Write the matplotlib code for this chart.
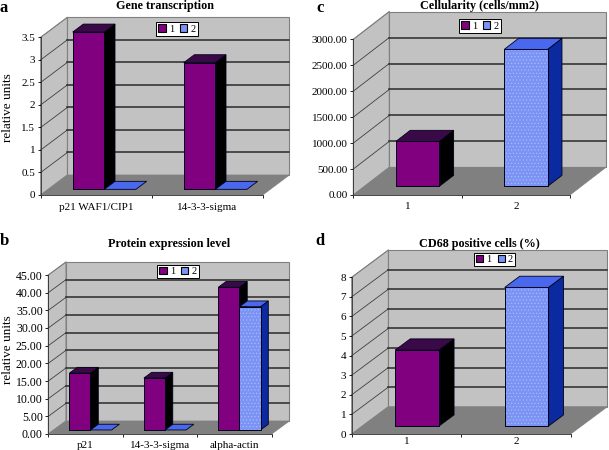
import numpy as np
import matplotlib
matplotlib.use("Agg")
import matplotlib.pyplot as plt
from matplotlib.patches import Patch

plt.rcParams['font.family'] = ['Liberation Serif', 'DejaVu Serif']
plt.rcParams['hatch.linewidth'] = 0.5

W, H = 609, 450

# values, nan = no bar
a_labels = ['p21 WAF1/CIP1', '14-3-3-sigma']
a_s1 = [3.49, 2.81]
a_s2 = [0.0, 0.0]
a_ticks = [0, 0.5, 1, 1.5, 2, 2.5, 3, 3.5]
a_ticklabels = ['0', '0.5', '1', '1.5', '2', '2.5', '3', '3.5']

b_labels = ['p21', '14-3-3-sigma', 'alpha-actin']
b_s1 = [16.1, 14.7, 40.4]
b_s2 = [0.0, 0.0, 34.9]
b_ticks = [0, 5, 10, 15, 20, 25, 30, 35, 40, 45]
b_ticklabels = ['0.00', '5.00', '10.00', '15.00', '20.00', '25.00', '30.00', '35.00', '40.00', '45.00']

c_labels = ['1', '2']
c_s1 = [867, np.nan]
c_s2 = [np.nan, 2640]
c_ticks = [0, 500, 1000, 1500, 2000, 2500, 3000]
c_ticklabels = ['0.00', '500.00', '1000.00', '1500.00', '2000.00', '2500.00', '3000.00']

d_labels = ['1', '2']
d_s1 = [3.88, np.nan]
d_s2 = [np.nan, 7.08]
d_ticks = [0, 1, 2, 3, 4, 5, 6, 7, 8]
d_ticklabels = ['0', '1', '2', '3', '4', '5', '6', '7', '8']

PURPLE = ('#800080', '#3a0a48', '#000000')
BLUE = ('#7a93f5', '#4a68ee', '#0c2aa0')


def draw_bar(ax, x, width, val, d0, d1, dx, dy, cols, dotted=False):
    front, top, side = cols
    x0 = x + d0 * dx
    b0 = d0 * dy
    xd = (d1 - d0) * dx
    yd = (d1 - d0) * dy
    ec = '#000018'
    x1 = x0 + width
    y1 = b0 + val
    if val > 0:
        ax.fill([x1, x1 + xd, x1 + xd, x1], [b0, b0 + yd, y1 + yd, y1], color=side,
                ec=ec, lw=0.6, clip_on=False, zorder=4)
        if dotted:
            ax.bar(x0, val, width, bottom=b0, align='edge', color=front, edgecolor='#a9baf8',
                   hatch='.....', lw=0, clip_on=False, zorder=5)
            ax.bar(x0, val, width, bottom=b0, align='edge', fill=False, edgecolor=ec,
                   lw=0.7, clip_on=False, zorder=5)
        else:
            ax.bar(x0, val, width, bottom=b0, align='edge', color=front, edgecolor=ec,
                   lw=0.7, clip_on=False, zorder=5)
    ax.fill([x0, x1, x1 + xd, x0 + xd], [y1, y1, y1 + yd, y1 + yd], color=top,
            ec=ec, lw=0.6, clip_on=False, zorder=6)


def panel(rect, depth, labels, s1, s2, ticks, ticklabels, title, title_xy, letter, letter_xy,
          bar_w, bar_x, bar_d, overlap, pad, legend_box, ylabel_y=None, ysize=8):
    left, right, top, bottom = rect
    ax = fig.add_axes([left / W, 1 - bottom / H, (right - left) / W, (bottom - top) / H])
    n = len(labels)
    ymax = ticks[-1]
    ax.set_xlim(0, n)
    ax.set_ylim(0, ymax)
    ax.patch.set_visible(False)
    for s in ['top', 'right']:
        ax.spines[s].set_visible(False)
    for s in ['left', 'bottom']:
        ax.spines[s].set_linewidth(0.6)
        ax.spines[s].set_color('#303030')
        ax.spines[s].set_zorder(7)

    # depth of the box, in data units
    dx = depth[0] / (right - left) * n
    dy = depth[1] / (bottom - top) * ymax

    # walls and floor
    ax.fill([0, dx, dx, 0], [0, dy, ymax + dy, ymax], color='#c2c2c2', ec='#808080', lw=0.7, clip_on=False, zorder=1)
    ax.fill([dx, n + dx, n + dx, dx], [dy, dy, ymax + dy, ymax + dy], color='#c2c2c2', ec='#808080', lw=0.8, clip_on=False, zorder=1)
    ax.fill([0, n, n + dx, dx], [0, 0, dy, dy], color='#808080', ec='#808080', lw=0.5, clip_on=False, zorder=2)

    for t in ticks[1:-1]:
        ax.plot([0, dx], [t, t + dy], color='#404040', lw=0.6, clip_on=False, zorder=1.5)
        ax.plot([dx, n + dx], [t + dy, t + dy], color='#2a2a2a', lw=1.1, clip_on=False, zorder=1.5)
    ax.plot([0, dx], [ymax, ymax + dy], color='#808080', lw=0.7, clip_on=False, zorder=1.5)

    # bars
    for i in range(n):
        if not np.isnan(s1[i]):
            draw_bar(ax, i + bar_x, bar_w, s1[i], bar_d[0], bar_d[1], dx, dy, PURPLE)
        if not np.isnan(s2[i]):
            x2 = i + bar_x + (0 if overlap else bar_w)
            draw_bar(ax, x2, bar_w, s2[i], bar_d[0], bar_d[1], dx, dy, BLUE, dotted=True)

    ax.set_yticks(ticks, labels=ticklabels)
    ax.set_xticks(np.arange(n + 1), labels=[''] * (n + 1))
    ax.set_xticks(np.arange(n) + 0.5, labels=labels, minor=True)
    ax.tick_params(axis='y', length=2.5, width=0.6, pad=1.5, labelsize=ysize)
    ax.tick_params(axis='x', which='major', length=2, width=0.6)
    ax.tick_params(axis='x', which='minor', length=0, pad=pad, labelsize=8)

    fig.text(title_xy[0] / W, 1 - title_xy[1] / H, title, ha='center', va='baseline',
             fontsize=8.7, fontweight='bold')
    fig.text(letter_xy[0] / W, 1 - letter_xy[1] / H, letter, ha='left', va='baseline',
             fontsize=12, fontweight='bold')
    if ylabel_y is not None:
        fig.text(8 / W, 1 - ylabel_y / H, 'relative units', rotation=90,
                 ha='center', va='center', fontsize=9.5)

    # legend box, placed in figure pixels
    lx0, ly0, lx1, ly1 = legend_box
    handles = [Patch(facecolor=PURPLE[0], edgecolor='black', lw=0.8),
               Patch(facecolor=BLUE[0], edgecolor='black', lw=0.8)]
    leg = fig.legend(handles, ['1', '2'], ncol=2, loc='center',
                     bbox_to_anchor=((lx0 + lx1) / 2 / W, 1 - (ly0 + ly1) / 2 / H),
                     fontsize=7.5, frameon=True, fancybox=False, framealpha=1,
                     edgecolor='black', borderpad=0.2, handlelength=0.7, handleheight=0.7,
                     handletextpad=0.3, columnspacing=0.6, borderaxespad=0)
    leg.get_frame().set_linewidth(0.7)
    leg.set_zorder(20)
    return ax


fig = plt.figure(figsize=(W / 100, H / 100), dpi=100, facecolor='white')

panel((40.7, 262.7, 37.3, 195), (26.7, 20), a_labels, a_s1, a_s2, a_ticks, a_ticklabels,
      'Gene transcription', (165, 8.5), 'a', (0, 11.5),
      0.285, 0.22, (0.283, 0.683), False, 6, (157, 23, 197, 35), ylabel_y=108)
panel((48.3, 271.7, 275, 434), (17.7, 13), b_labels, b_s1, b_s2, b_ticks, b_ticklabels,
      'Protein expression level', (169, 247), 'b', (0, 245),
      0.283, 0.21, (0.31, 0.75), False, 4.7, (159, 266, 197, 277), ylabel_y=350, ysize=8.5)
panel((353.3, 570, 39.3, 195), (36, 27.7), c_labels, c_s1, c_s2, c_ticks, c_ticklabels,
      'Cellularity (cells/mm2)', (479, 9), 'c', (316, 11.5),
      0.40, 0.29, (0.31, 0.71), True, 5, (460, 19, 500, 33))
panel((351.7, 570.7, 277.3, 434), (36.7, 27.3), d_labels, d_s1, d_s2, d_ticks, d_ticklabels,
      'CD68 positive cells (%)', (479, 247), 'd', (315, 245),
      0.40, 0.30, (0.29, 0.70), True, 2, (475, 253, 514, 266))

fig.savefig('out.png', dpi=100)
